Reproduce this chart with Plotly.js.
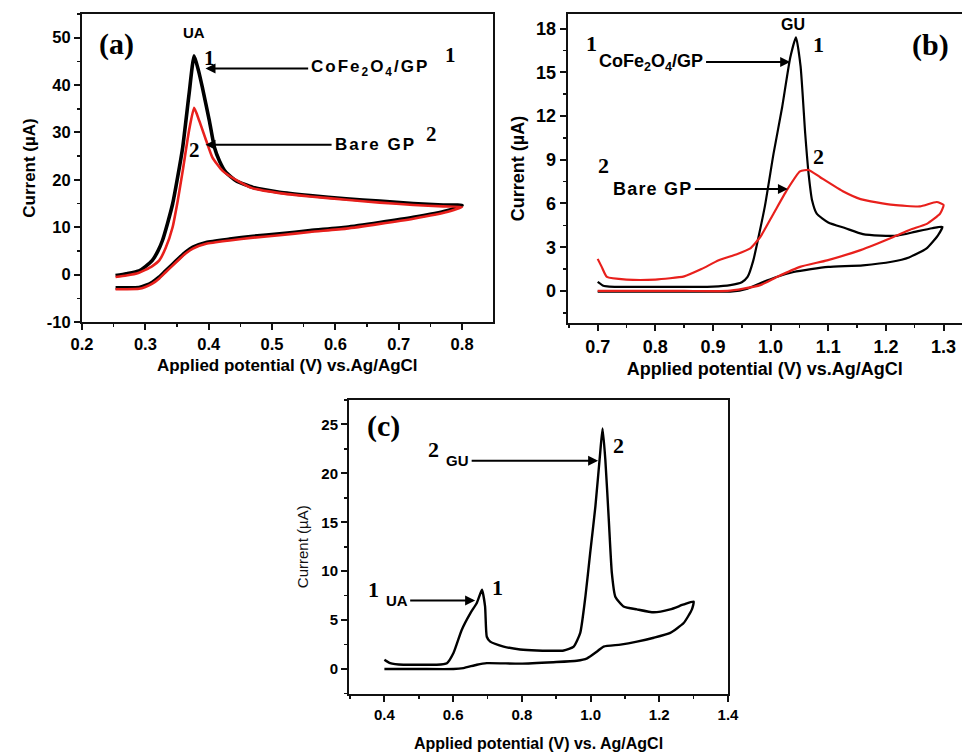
<!DOCTYPE html>
<html>
<head>
<meta charset="utf-8">
<script src="https://cdn.plot.ly/plotly-3.0.1.min.js"></script>
<style>html,body{margin:0;padding:0;background:#fff;}#chart{width:962px;height:752px;}</style>
</head>
<body>
<div id="chart"></div>
<script>
// ---------- Panel (a): UA, CoFe2O4/GP (black) vs Bare GP (red) ----------
const aBlackX = [0.253,0.27,0.29,0.30,0.311,0.32,0.327,0.335,0.343,0.351,0.359,0.369,0.377,0.384,0.390,0.401,0.409,0.417,0.427,0.443,0.470,0.512,0.56,0.617,0.67,0.723,0.77,0.80,
                 0.776,0.723,0.67,0.617,0.56,0.512,0.47,0.433,0.396,0.375,0.364,0.354,0.343,0.332,0.322,0.311,0.30,0.29,0.27,0.253];
const aBlackY = [-0.2,0.2,0.8,1.7,3.0,5.0,7.2,10.8,14.9,20.6,26.9,38.1,46.2,43.0,39.5,32.5,26.9,24.0,21.6,19.8,18.4,17.4,16.7,16.0,15.5,15.0,14.7,14.6,
                 13.5,12.1,11.0,10.0,9.3,8.6,8.1,7.5,6.8,5.8,4.8,3.6,2.2,0.8,-0.5,-1.6,-2.3,-2.7,-2.8,-2.8];
const aRedX   = [0.253,0.27,0.29,0.30,0.311,0.322,0.332,0.343,0.351,0.359,0.369,0.377,0.385,0.396,0.406,0.422,0.443,0.470,0.512,0.56,0.617,0.67,0.723,0.77,0.80,
                 0.776,0.723,0.67,0.617,0.56,0.512,0.47,0.433,0.396,0.375,0.364,0.354,0.343,0.332,0.322,0.311,0.30,0.29,0.27,0.253];
const aRedY   = [-0.5,-0.2,0.4,1.0,1.8,3.0,5.6,10.0,15.5,21.9,30.4,35.2,32.5,28.3,24.7,21.9,20.0,18.2,17.2,16.5,15.8,15.2,14.7,14.4,14.3,
                 13.2,11.8,10.7,9.7,9.0,8.3,7.8,7.2,6.5,5.5,4.5,3.3,1.9,0.5,-0.8,-1.9,-2.6,-3.0,-3.1,-3.1];

// ---------- Panel (b): GU ----------
const bBlackX = [0.70,0.71,0.72,0.75,0.80,0.85,0.90,0.93,0.95,0.96,0.97,0.99,1.005,1.02,1.034,1.044,1.052,1.060,1.066,1.072,1.08,1.10,1.13,1.16,1.19,1.22,1.25,1.28,1.298,
                 1.29,1.27,1.24,1.21,1.16,1.10,1.07,1.04,1.01,0.98,0.96,0.93,0.90,0.85,0.80,0.75,0.70];
const bBlackY = [0.62,0.35,0.3,0.28,0.28,0.28,0.3,0.4,0.6,0.96,2.1,5.8,9.4,12.6,16.0,17.4,15.4,10.8,8.0,6.2,5.3,4.7,4.3,3.9,3.8,3.8,4.05,4.3,4.4,
                 3.8,2.9,2.3,2.0,1.76,1.65,1.5,1.3,0.96,0.5,0.16,-0.05,-0.05,-0.05,-0.05,-0.05,-0.05];
const bRedX   = [0.70,0.707,0.716,0.75,0.80,0.85,0.88,0.91,0.94,0.964,0.982,1.005,1.028,1.051,1.066,1.086,1.127,1.156,1.213,1.259,1.288,1.300,
                 1.294,1.271,1.242,1.213,1.156,1.098,1.051,1.011,0.982,0.953,0.925,0.85,0.80,0.75,0.70];
const bRedY   = [2.2,1.65,0.96,0.78,0.78,1.0,1.5,2.1,2.5,2.9,3.7,5.3,6.9,8.2,8.3,7.8,6.8,6.3,5.9,5.8,6.1,5.9,
                 5.3,4.6,4.2,3.7,2.8,2.1,1.65,0.96,0.4,0.16,0.0,0.0,0.0,0.0,0.0];

// ---------- Panel (c): UA + GU mixture ----------
const cX = [0.40,0.417,0.455,0.50,0.552,0.582,0.601,0.625,0.650,0.669,0.684,0.693,0.698,0.708,0.747,0.795,0.844,0.922,0.951,0.970,0.985,0.999,1.014,1.028,1.035,1.043,1.053,1.062,1.072,1.096,1.135,1.184,1.232,1.271,1.300,
            1.295,1.271,1.232,1.184,1.135,1.087,1.038,1.019,0.990,0.960,0.892,0.795,0.698,0.669,0.630,0.601,0.50,0.40];
const cY = [0.96,0.61,0.44,0.44,0.44,0.6,1.64,4.0,5.7,6.75,8.1,6.4,3.3,2.8,2.3,2.0,1.9,1.9,2.3,3.7,7.4,11.9,16.6,22.1,24.6,21.4,15.3,9.8,7.4,6.4,6.1,5.8,6.1,6.6,6.9,
            6.1,4.7,3.7,3.2,2.8,2.5,2.3,1.8,1.1,0.85,0.7,0.55,0.6,0.44,0.1,0.0,0.0,0.0];

// ---------- Tick labels ----------
const aXTicks = ['0.2','0.3','0.4','0.5','0.6','0.7','0.8'];
const aYTicks = ['-10','0','10','20','30','40','50'];
const bXTicks = ['0.7','0.8','0.9','1.0','1.1','1.2','1.3'];
const bYTicks = ['0','3','6','9','12','15','18'];
const cXTicks = ['0.4','0.6','0.8','1.0','1.2','1.4'];
const cYTicks = ['0','5','10','15','20','25'];

// ---------- Axis titles ----------
const xTitleA = 'Applied potential (V) vs.Ag/AgCl';
const xTitleB = 'Applied potential (V) vs.Ag/AgCl';
const xTitleC = 'Applied potential (V) vs. Ag/AgCl';
const yTitle  = 'Current (µA)';

const SANS = '"Liberation Sans", Arial, sans-serif';
const SERIF = '"Liberation Serif", "Times New Roman", serif';
const W = 962, H = 752;
const px = v => v / W, py = v => 1 - v / H;

function tf(size) { return {family: SANS, size, color: '#000', weight: 700}; }
function ticks(labels) {
  return {tickmode: 'array', tickvals: labels.map(Number), ticktext: labels.map(t => '<b>' + t + '</b>')};
}
function axis(labels, opts) {
  return Object.assign({
    showgrid: false, zeroline: false, showline: true, linecolor: '#111', linewidth: 2,
    mirror: true, ticks: 'outside', ticklen: 6, tickwidth: 2, tickcolor: '#111',
    tickfont: tf(16.5), automargin: false
  }, ticks(labels), opts);
}
const minor = d => ({ticks: 'outside', ticklen: 3, dtick: d, tickcolor: '#111', tickwidth: 1.5});

const ln = (color, width) => ({color, width, shape: 'spline', smoothing: 0.5});
const traces = [
  {x: aBlackX, y: aBlackY, xaxis: 'x', yaxis: 'y', mode: 'lines', line: ln('#000', 3.6), name: 'CoFe2O4/GP'},
  {x: aRedX, y: aRedY, xaxis: 'x', yaxis: 'y', mode: 'lines', line: ln('#e8201c', 2.6), name: 'Bare GP'},
  {x: bBlackX, y: bBlackY, xaxis: 'x2', yaxis: 'y2', mode: 'lines', line: ln('#000', 2.2), name: 'CoFe2O4/GP'},
  {x: bRedX, y: bRedY, xaxis: 'x2', yaxis: 'y2', mode: 'lines', line: ln('#e8201c', 2.2), name: 'Bare GP'},
  {x: cX, y: cY, xaxis: 'x3', yaxis: 'y3', mode: 'lines', line: ln('#000', 2.4), name: 'UA + GU'}
];

function txt(xref, yref, x, y, text, size, fam, anchor) {
  return {xref, yref, x, y, text, showarrow: false, xanchor: anchor || 'center', yanchor: 'middle',
          font: {family: fam || SANS, size, color: '#000', weight: 700}};
}
// label with an arrow: the text box sits at (tx, ty), arrow head at (hx, hy)
function arrowLabel(xref, yref, hx, hy, tx, ty, text, size, anchor) {
  return {xref, yref, x: hx, y: hy, ax: tx, ay: ty, axref: xref, ayref: yref, text,
          xanchor: anchor, yanchor: 'middle', borderpad: 2,
          font: {family: SANS, size, color: '#000', weight: 700},
          showarrow: true, arrowhead: 2, arrowsize: 1, arrowwidth: 2, arrowcolor: '#000'};
}
const sp = (s, ls) => '<span style="letter-spacing:' + ls + 'px">' + s + '</span>';

const annotations = [
  // (a)
  txt('x','y', 0.255, 48.7, '(a)', 30, SERIF),
  txt('x','y', 0.377, 51.0, 'UA', 15),
  txt('x','y', 0.402, 45.8, '1', 21, SERIF),
  arrowLabel('x','y', 0.395, 43.5, 0.557, 43.5, sp('CoFe<sub>2</sub>O<sub>4</sub>/GP', 2), 17, 'left'),
  txt('x','y', 0.781, 46.4, '1', 21, SERIF),
  txt('x','y', 0.377, 26.2, '2', 21, SERIF),
  arrowLabel('x','y', 0.395, 27.4, 0.594, 27.4, sp('Bare GP', 2), 17, 'left'),
  txt('x','y', 0.752, 29.7, '2', 21, SERIF),
  // (b)
  txt('x2','y2', 1.277, 16.9, '(b)', 30, SERIF),
  txt('x2','y2', 1.039, 18.25, 'GU', 16),
  txt('x2','y2', 1.083, 16.9, '1', 22, SERIF),
  txt('x2','y2', 0.689, 17.0, '1', 22, SERIF),
  arrowLabel('x2','y2', 1.034, 15.7, 0.888, 15.7, 'CoFe<sub>2</sub>O<sub>4</sub>/GP', 18, 'right'),
  txt('x2','y2', 1.083, 9.2, '2', 22, SERIF),
  txt('x2','y2', 0.710, 8.6, '2', 22, SERIF),
  arrowLabel('x2','y2', 1.030, 7.0, 0.722, 7.0, sp('Bare GP', 1.2), 18, 'left'),
  // (c)
  txt('x3','y3', 0.396, 24.8, '(c)', 30, SERIF),
  txt('x3','y3', 0.542, 22.4, '2', 22, SERIF),
  arrowLabel('x3','y3', 1.022, 21.3, 0.571, 21.3, 'GU', 15, 'left'),
  txt('x3','y3', 1.080, 22.8, '2', 22, SERIF),
  txt('x3','y3', 0.367, 8.1, '1', 22, SERIF),
  arrowLabel('x3','y3', 0.664, 7.0, 0.395, 7.0, 'UA', 15, 'left'),
  txt('x3','y3', 0.730, 8.3, '1', 22, SERIF)
];

const layout = {
  width: W, height: H, margin: {l: 0, r: 0, t: 0, b: 0},
  paper_bgcolor: '#fff', plot_bgcolor: '#fff', showlegend: false,
  xaxis: axis(aXTicks, {domain: [px(82), px(492.5)], range: [0.2, 0.848],
               minor: minor(0.05), anchor: 'y',
               title: {text: xTitleA, standoff: 7, font: tf(17)}}),
  yaxis: axis(aYTicks, {domain: [py(322), py(14)], range: [-10, 55],
               minor: minor(5), anchor: 'x',
               title: {text: yTitle, standoff: 7, font: tf(17)}}),
  xaxis2: axis(bXTicks, {domain: [px(567.7), 1], range: [0.648, 1.332],
               minor: minor(0.05), anchor: 'y2', tickfont: tf(18),
               title: {text: xTitleB, standoff: 7, font: tf(18)}}),
  yaxis2: axis(bYTicks, {domain: [py(323), py(14)], range: [-2.2, 19], mirror: false,
               minor: minor(1.5), anchor: 'x2', tickfont: tf(18),
               title: {text: yTitle, standoff: 7, font: tf(18)}}),
  xaxis3: axis(cXTicks, {domain: [px(349), px(728)], range: [0.297, 1.4],
               minor: minor(0.1), anchor: 'y3', tickfont: tf(15),
               title: {text: xTitleC, standoff: 22, font: tf(16)}}),
  yaxis3: axis(cYTicks, {domain: [py(693.5), py(400)], range: [-2.5, 27.5],
               minor: minor(2.5), anchor: 'x3', tickfont: tf(15),
               title: {text: yTitle, standoff: 9, font: {family: SANS, size: 15, color: '#111', weight: 400}}}),
  annotations
};

Plotly.newPlot('chart', traces, layout, {displayModeBar: false, staticPlot: true});
</script>
</body>
</html>
